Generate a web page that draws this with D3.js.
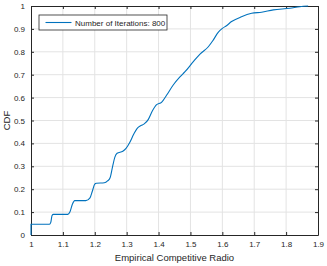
<!DOCTYPE html>
<html>
<head>
<meta charset="utf-8">
<script src="https://cdn.jsdelivr.net/npm/d3@7"></script>
<style>
  body { margin: 0; background: #fff; }
  svg { display: block; font-family: "Liberation Sans", Arial, sans-serif; }
</style>
</head>
<body>
<svg id="chart" width="327" height="266"></svg>
<script>
// empirical CDF
const ratio = [1.000, 1.000, 1.058, 1.062, 1.066, 1.070, 1.115, 1.122, 1.130, 1.137,
  1.172, 1.185, 1.192, 1.200, 1.205, 1.230, 1.240, 1.248, 1.256, 1.263,
  1.270, 1.288, 1.298, 1.310, 1.322, 1.333, 1.345, 1.355, 1.368, 1.380,
  1.393, 1.410, 1.425, 1.446, 1.467, 1.483, 1.509, 1.530, 1.556, 1.570,
  1.587, 1.600, 1.613, 1.629, 1.660, 1.692, 1.723, 1.760, 1.812, 1.843, 1.869];
const cdf = [0, 0.047, 0.047, 0.055, 0.085, 0.090, 0.090, 0.100, 0.135, 0.150,
  0.150, 0.162, 0.190, 0.222, 0.226, 0.228, 0.236, 0.250, 0.300, 0.340,
  0.357, 0.366, 0.378, 0.405, 0.440, 0.466, 0.478, 0.485, 0.505, 0.540,
  0.568, 0.580, 0.610, 0.655, 0.690, 0.713, 0.757, 0.790, 0.822, 0.848,
  0.885, 0.902, 0.914, 0.932, 0.953, 0.968, 0.973, 0.983, 0.990, 0.997, 1.000];

const xTicks = [1, 1.1, 1.2, 1.3, 1.4, 1.5, 1.6, 1.7, 1.8, 1.9];
const yTicks = [0, 0.1, 0.2, 0.3, 0.4, 0.5, 0.6, 0.7, 0.8, 0.9, 1];
const legendLabel = "Number of Iterations: 800";

const margin = { top: 6, right: 9, bottom: 31, left: 31 };
const width = 327, height = 266;
const axisColor = "#262626";

const svg = d3.select("#chart");

const x = d3.scaleLinear().domain([1, 1.9]).range([margin.left, width - margin.right]);
const y = d3.scaleLinear().domain([0, 1]).range([height - margin.bottom, margin.top]);

// grid
svg.append("g")
    .selectAll("line")
    .data(xTicks.slice(1, -1))
    .join("line")
    .attr("x1", d => x(d)).attr("x2", d => x(d))
    .attr("y1", y(0)).attr("y2", y(1))
    .attr("stroke", "#e3e3e3").attr("stroke-width", 1);

svg.append("g")
    .selectAll("line")
    .data(yTicks.slice(1, -1))
    .join("line")
    .attr("x1", x(1)).attr("x2", x(1.9))
    .attr("y1", d => y(d)).attr("y2", d => y(d))
    .attr("stroke", "#e3e3e3").attr("stroke-width", 1);

// axes (MATLAB-like, ticks inside)
const fmt = d => d3.format("")(d);
const tickLen = -3;

function styleAxis(g) {
    g.select(".domain").attr("stroke", axisColor);
    g.selectAll(".tick line").attr("stroke", axisColor);
    g.selectAll(".tick text").attr("fill", axisColor).style("font-size", "8px");
}

svg.append("g")
    .attr("transform", `translate(0,${y(0)})`)
    .call(d3.axisBottom(x).tickValues(xTicks).tickFormat(fmt).tickSize(tickLen).tickSizeOuter(0).tickPadding(6))
    .call(styleAxis);

svg.append("g")
    .attr("transform", `translate(0,${y(1)})`)
    .call(d3.axisTop(x).tickValues(xTicks).tickFormat("").tickSize(tickLen).tickSizeOuter(0))
    .call(styleAxis);

svg.append("g")
    .attr("transform", `translate(${x(1)},0)`)
    .call(d3.axisLeft(y).tickValues(yTicks).tickFormat(fmt).tickSize(tickLen).tickSizeOuter(0).tickPadding(6))
    .call(styleAxis);

svg.append("g")
    .attr("transform", `translate(${x(1.9)},0)`)
    .call(d3.axisRight(y).tickValues(yTicks).tickFormat("").tickSize(tickLen).tickSizeOuter(0))
    .call(styleAxis);

// the curve
const pts = ratio.map((r, i) => [r, cdf[i]]);
svg.append("path")
    .datum(pts)
    .attr("fill", "none")
    .attr("stroke", "#0072BD")
    .attr("stroke-width", 1.1)
    .attr("d", d3.line().x(d => x(d[0])).y(d => y(d[1])).curve(d3.curveMonotoneX));

// axis labels
svg.append("text")
    .attr("x", (x(1) + x(1.9)) / 2)
    .attr("y", 261)
    .attr("text-anchor", "middle")
    .attr("fill", axisColor)
    .style("font-size", "9.5px")
    .text("Empirical Competitive Radio");

svg.append("text")
    .attr("transform", `translate(10,${(y(0) + y(1)) / 2}) rotate(-90)`)
    .attr("text-anchor", "middle")
    .attr("fill", axisColor)
    .style("font-size", "9.5px")
    .text("CDF");

// legend
const lg = svg.append("g").attr("transform", "translate(39,15)");
lg.append("rect")
    .attr("width", 128).attr("height", 15)
    .attr("fill", "#fff").attr("stroke", axisColor).attr("stroke-width", 0.8);
lg.append("line")
    .attr("x1", 6.5).attr("x2", 32.5).attr("y1", 7.5).attr("y2", 7.5)
    .attr("stroke", "#0072BD").attr("stroke-width", 1.1);
lg.append("text")
    .attr("x", 36).attr("y", 10.5)
    .attr("fill", axisColor)
    .style("font-size", "8px")
    .text(legendLabel);
</script>
</body>
</html>
